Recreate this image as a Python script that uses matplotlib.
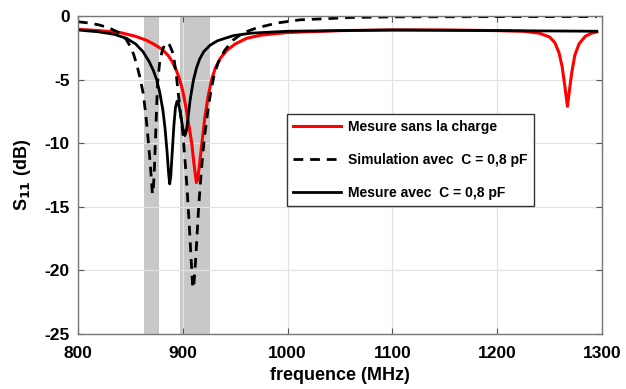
import matplotlib
matplotlib.use('Agg')
import matplotlib.pyplot as plt

plt.rcParams['font.family'] = ['Liberation Sans', 'DejaVu Sans']
plt.rcParams['font.weight'] = 'bold'
plt.rcParams['axes.unicode_minus'] = False

# Mesure sans la charge (red)
f_red = [800, 820, 840, 855, 865, 872, 880, 886, 890, 894, 897, 900, 903, 906,
         908.5, 910.5, 912, 913, 914, 915.5, 917, 918.5, 921, 924, 927.5, 931,
         936, 942, 950, 961, 975, 1000, 1050, 1100, 1150, 1200, 1225, 1240,
         1250, 1255, 1259, 1262, 1264.5, 1267, 1269, 1271, 1274, 1278, 1284,
         1290, 1295]
s_red = [-1.05, -1.15, -1.3, -1.6, -1.9, -2.2, -2.6, -3.1, -3.6, -4.3, -5.0,
         -5.9, -7.2, -8.7, -10.0, -11.5, -12.5, -13.1, -12.9, -12.0, -10.9,
         -9.8, -8.0, -6.4, -5.0, -4.1, -3.3, -2.7, -2.2, -1.75, -1.5, -1.3,
         -1.15, -1.1, -1.1, -1.15, -1.2, -1.35, -1.65, -2.1, -2.9, -4.0, -5.5,
         -7.1, -5.8, -4.5, -3.1, -2.2, -1.6, -1.35, -1.25]

# Simulation avec C = 0,8 pF (dashed)
f_sim = [800, 810, 820, 830, 840, 846, 850, 853, 856, 859, 862, 864.5, 866.5,
         868.5, 870, 871, 872, 873, 874, 875, 876, 878, 880.5, 883, 885, 887.5,
         890, 892, 894, 896, 898, 900, 902, 904, 906, 908, 909.5, 910.5, 912,
         913.5, 915, 917, 919, 921, 924, 927, 930, 934, 940, 948, 957, 970,
         990, 1012, 1040, 1060, 1100, 1200, 1295]
s_sim = [-0.45, -0.55, -0.7, -0.95, -1.35, -1.85, -2.4, -3.0, -3.8, -4.8, -6.0,
         -7.6, -9.3, -11.2, -12.8, -14.0, -13.4, -11.8, -9.5, -7.2, -5.2, -3.6,
         -2.7, -2.2, -2.1, -2.3, -2.8, -3.6, -4.8, -6.3, -7.8, -9.2, -11.2,
         -13.5, -16.2, -19.2, -21.4, -21.2, -19.5, -17.4, -15.2, -12.9, -10.9,
         -9.3, -7.4, -5.8, -4.6, -3.6, -2.7, -1.9, -1.35, -0.95, -0.55, -0.3,
         -0.2, -0.12, -0.07, -0.05, -0.05]

# Mesure avec C = 0,8 pF (black)
f_mes = [800, 820, 835, 846, 855, 862, 868, 872, 875, 878, 881, 883, 885,
         886.5, 887.5, 888.5, 890, 891.5, 893, 894.5, 896, 898, 900, 902,
         903.5, 905, 907, 910, 913, 916, 920, 926, 933, 948, 965, 1000, 1100,
         1200, 1295]
s_mes = [-1.1, -1.25, -1.45, -1.75, -2.2, -2.8, -3.6, -4.3, -5.0, -6.0, -7.4,
         -8.8, -10.7, -12.4, -13.2, -12.6, -10.6, -8.6, -7.2, -6.7, -6.9, -7.8,
         -8.8, -9.4, -9.0, -8.0, -6.6, -5.1, -4.1, -3.4, -2.8, -2.3, -1.95,
         -1.55, -1.35, -1.2, -1.1, -1.15, -1.2]

bands = [(863, 877), (897, 926)]

fig = plt.figure(figsize=(6.26, 3.89), dpi=100)
ax = fig.add_axes([0.1246, 0.1414, 0.8371, 0.8175])

for a, b in bands:
    ax.axvspan(a, b, color='#c8c8c8', lw=0, zorder=0.5)

ax.plot(f_red, s_red, color='red', lw=2.2, label='Mesure sans la charge', zorder=3)
ax.plot(f_sim, s_sim, color='black', lw=2, ls=(0, (3.5, 2.5)),
        label='Simulation avec  C = 0,8 pF', zorder=3)
ax.plot(f_mes, s_mes, color='black', lw=2, label='Mesure avec  C = 0,8 pF', zorder=3)

ax.set_xlim(800, 1300)
ax.set_ylim(-25, 0)
ax.set_xticks(range(800, 1301, 100))
ax.set_yticks(range(-25, 1, 5))
ax.grid(True, color='#e2e2e2', lw=0.9, zorder=1)
ax.tick_params(direction='in', top=True, right=True, labelsize=12.5,
               color='#555555', length=4)
ax.tick_params(axis='x', pad=9)
ax.tick_params(axis='y', pad=6)
for sp in ax.spines.values():
    sp.set_color('#777777')
    sp.set_linewidth(1.0)
    sp.set_zorder(4)

ax.set_xlabel('frequence (MHz)', fontsize=13, fontweight='bold', labelpad=4)
ax.set_ylabel('S$_{\\mathbf{11}}$ (dB)', fontsize=13, fontweight='bold', labelpad=8)

leg = ax.legend(loc='upper left', bbox_to_anchor=(0.399, 0.692), fontsize=10,
                frameon=True, fancybox=False, edgecolor='#333333',
                framealpha=1, labelspacing=1.37, handlelength=3.4,
                handletextpad=0.55, borderpad=0.45, borderaxespad=0)
leg.get_frame().set_linewidth(1.0)

fig.savefig('out.png', dpi=100)
